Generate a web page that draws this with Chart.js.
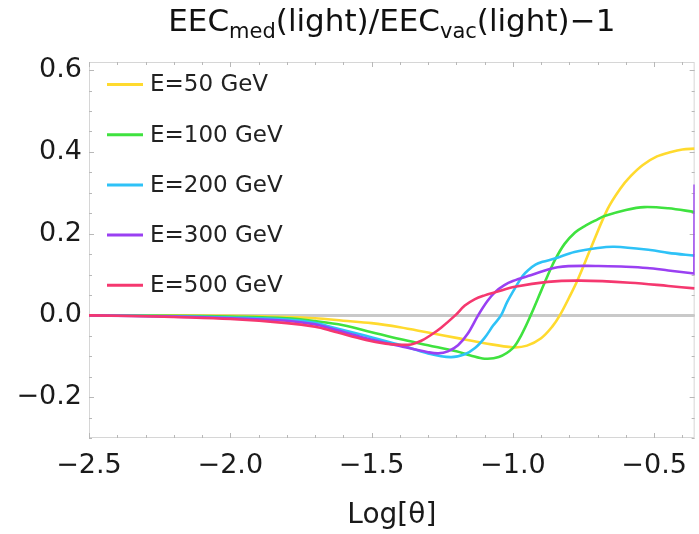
<!DOCTYPE html>
<html><head><meta charset="utf-8">
<script src="https://cdn.jsdelivr.net/npm/chart.js@4/dist/chart.umd.min.js"></script>
<style>html,body{margin:0;padding:0;background:#fff}#wrap{width:699px;height:534px}</style>
</head><body><div id="wrap"><canvas id="c" width="699" height="534"></canvas></div>
<script>
// ---- data ----
const seriesLabels = ['E=50 GeV', 'E=100 GeV', 'E=200 GeV', 'E=300 GeV', 'E=500 GeV'];
const seriesColors = ['#FFDA2E', '#3FE23F', '#2EC2F7', '#9A40F2', '#F5386F'];

const x50  = [-2.5, -2.2, -2.0, -1.8, -1.7, -1.6, -1.5, -1.4, -1.3, -1.2, -1.1, -1.0, -0.95, -0.9, -0.86, -0.834, -0.8, -0.77, -0.725, -0.665, -0.62, -0.584, -0.54, -0.49, -0.44, -0.40, -0.357];
const y50  = [0, 0, -0.001, -0.004, -0.007, -0.013, -0.019, -0.029, -0.042, -0.055, -0.068, -0.078, -0.074, -0.056, -0.027, 0, 0.045, 0.088, 0.163, 0.26, 0.31, 0.34, 0.368, 0.389, 0.400, 0.406, 0.408];

const x100 = [-2.5, -2.2, -2.0, -1.8, -1.7, -1.6, -1.5, -1.4, -1.3, -1.2, -1.15, -1.1, -1.05, -1.0, -0.97, -0.937, -0.9, -0.877, -0.85, -0.817, -0.78, -0.747, -0.7, -0.676, -0.6, -0.535, -0.45, -0.357];
const y100 = [0, -0.001, -0.003, -0.007, -0.014, -0.024, -0.041, -0.058, -0.073, -0.088, -0.098, -0.106, -0.102, -0.08, -0.048, 0, 0.06, 0.097, 0.137, 0.175, 0.203, 0.218, 0.235, 0.243, 0.258, 0.265, 0.262, 0.253];

const x200 = [-2.5, -2.2, -2.0, -1.8, -1.7, -1.64, -1.52, -1.4, -1.3, -1.22, -1.17, -1.134, -1.1, -1.07, -1.042, -1.02, -0.993, -0.965, -0.947, -0.92, -0.895, -0.852, -0.782, -0.7, -0.641, -0.514, -0.45, -0.357];
const y200 = [0, -0.002, -0.005, -0.010, -0.018, -0.029, -0.050, -0.072, -0.093, -0.102, -0.095, -0.080, -0.055, -0.025, 0, 0.033, 0.066, 0.097, 0.110, 0.124, 0.131, 0.139, 0.155, 0.165, 0.168, 0.160, 0.153, 0.146];

const x300 = [-2.5, -2.2, -2.0, -1.8, -1.7, -1.64, -1.52, -1.4, -1.3, -1.264, -1.23, -1.194, -1.16, -1.123, -1.09, -1.063, -1.03, -1.0, -0.937, -0.842, -0.701, -0.6, -0.525, -0.45, -0.3582, -0.3575, -0.3567];
const y300 = [0, -0.003, -0.007, -0.013, -0.022, -0.033, -0.056, -0.075, -0.090, -0.093, -0.088, -0.073, -0.045, 0, 0.035, 0.057, 0.074, 0.084, 0.098, 0.118, 0.121, 0.119, 0.116, 0.110, 0.1025, 0.102, 0.320];

const x500 = [-2.5, -2.3, -2.2, -2.0, -1.8, -1.7, -1.64, -1.52, -1.45, -1.4, -1.36, -1.324, -1.29, -1.254, -1.204, -1.17, -1.134, -1.1, -1.06, -0.993, -0.877, -0.761, -0.585, -0.45, -0.357];
const y500 = [0, -0.002, -0.004, -0.009, -0.019, -0.028, -0.038, -0.060, -0.069, -0.072, -0.071, -0.062, -0.048, -0.030, 0, 0.024, 0.040, 0.049, 0.057, 0.070, 0.082, 0.085, 0.080, 0.072, 0.066];

const xTickValues = [-2.5, -2.0, -1.5, -1.0, -0.5];
const yTickValues = [-0.2, 0.0, 0.2, 0.4, 0.6];
const xRange = [-2.5, -0.3567];
const yRange = [-0.3, 0.62];
const titleParts = [['EEC', false], ['med', true], ['(light)/EEC', false], ['vac', true], ['(light)\u22121', false]];
const xTitle = 'Log[\u03B8]';

// ---- build ----
const xs = [x50, x100, x200, x300, x500];
const ys = [y50, y100, y200, y300, y500];
const FONT = "'DejaVu Sans', sans-serif";

const datasets = seriesLabels.map((lab, i) => ({
  label: lab,
  data: xs[i].map((xv, j) => ({x: xv, y: ys[i][j]})),
  borderColor: seriesColors[i],
  backgroundColor: seriesColors[i],
  borderWidth: 2.6,
  pointRadius: 0,
  tension: 0.35,
  fill: false,
  order: 5 - i
}));

function fmt(v) {
  const s = Math.abs(v).toFixed(1);
  return (v < -1e-9 ? '\u2212' : '') + s;
}

const framePlugin = {
  id: 'frame',
  beforeDatasetsDraw(chart) {
    const {ctx, chartArea: a, scales: {x, y}} = chart;
    ctx.save();
    ctx.strokeStyle = '#d6d6d6';
    ctx.lineWidth = 1;
    ctx.strokeRect(a.left + 0.5, a.top + 0.5, a.right - a.left - 1, a.bottom - a.top - 1);
    ctx.strokeStyle = '#b8b8b8';
    ctx.beginPath();
    for (let i = 0; ; i++) {
      const v = xRange[0] + i * 0.1;
      if (v > xRange[1] + 1e-9) break;
      const px = Math.round(x.getPixelForValue(v)) + 0.5;
      const major = Math.abs(v * 2 - Math.round(v * 2)) < 1e-6;
      const L = major ? 5 : 3;
      ctx.moveTo(px, a.bottom); ctx.lineTo(px, a.bottom - L);
      ctx.moveTo(px, a.top); ctx.lineTo(px, a.top + L);
    }
    for (let i = 0; ; i++) {
      const v = yRange[0] + i * 0.05;
      if (v > yRange[1] + 1e-9) break;
      const py = Math.round(y.getPixelForValue(v)) + 0.5;
      const major = Math.abs(v * 5 - Math.round(v * 5)) < 1e-6;
      const L = major ? 5 : 3;
      ctx.moveTo(a.left, py); ctx.lineTo(a.left + L, py);
      ctx.moveTo(a.right, py); ctx.lineTo(a.right - L, py);
    }
    ctx.stroke();
    const y0 = y.getPixelForValue(0);
    ctx.strokeStyle = '#c9c9c9';
    ctx.lineWidth = 3;
    ctx.beginPath(); ctx.moveTo(a.left, y0); ctx.lineTo(a.right, y0); ctx.stroke();
    ctx.restore();
  },
  afterDraw(chart) {
    const {ctx, chartArea: a} = chart;
    ctx.save();
    const mainF = '31px ' + FONT, subF = '21px ' + FONT;
    let total = 0;
    const widths = titleParts.map(([t, sub]) => { ctx.font = sub ? subF : mainF; const w = ctx.measureText(t).width; total += w; return w; });
    let cx = (a.left + a.right) / 2 - total / 2;
    const base = 31;
    ctx.fillStyle = '#111';
    ctx.textBaseline = 'alphabetic';
    ctx.textAlign = 'left';
    titleParts.forEach(([t, sub], i) => {
      ctx.font = sub ? subF : mainF;
      ctx.fillText(t, cx, sub ? base + 7 : base);
      cx += widths[i];
    });
    ctx.font = '23px ' + FONT;
    ctx.textBaseline = 'middle';
    chart.data.datasets.forEach((ds, i) => {
      const yy = 84.5 + i * 50.2;
      ctx.strokeStyle = ds.borderColor;
      ctx.lineWidth = 3;
      ctx.beginPath(); ctx.moveTo(107, yy); ctx.lineTo(143, yy); ctx.stroke();
      ctx.fillStyle = '#222';
      ctx.fillText(ds.label, 150, yy + 1);
    });
    ctx.restore();
  }
};

new Chart(document.getElementById('c'), {
  type: 'line',
  data: {datasets},
  options: {
    responsive: false,
    animation: false,
    devicePixelRatio: 1,
    layout: {padding: {top: 62, right: 1, left: 0, bottom: 0}},
    plugins: {legend: {display: false}, title: {display: false}, tooltip: {enabled: false}},
    scales: {
      x: {
        type: 'linear', min: xRange[0], max: xRange[1],
        grid: {display: false, drawTicks: false},
        border: {display: false},
        afterBuildTicks: s => { s.ticks = xTickValues.map(v => ({value: v})); },
        afterFit: s => { s.height = 96; },
        ticks: {padding: 12, color: '#1a1a1a', font: {family: FONT, size: 27}, callback: v => fmt(v), maxRotation: 0, autoSkip: false},
        title: {display: true, text: xTitle, color: '#1a1a1a', font: {family: FONT, size: 28}, padding: {top: 0, bottom: 1}}
      },
      y: {
        type: 'linear', min: yRange[0], max: yRange[1],
        grid: {display: false, drawTicks: false},
        border: {display: false},
        afterBuildTicks: s => { s.ticks = yTickValues.map(v => ({value: v})); },
        afterFit: s => { s.width = 89; },
        ticks: {padding: 7, color: '#1a1a1a', font: {family: FONT, size: 27}, callback: v => fmt(v), autoSkip: false}
      }
    }
  },
  plugins: [framePlugin]
});
</script></body></html>
